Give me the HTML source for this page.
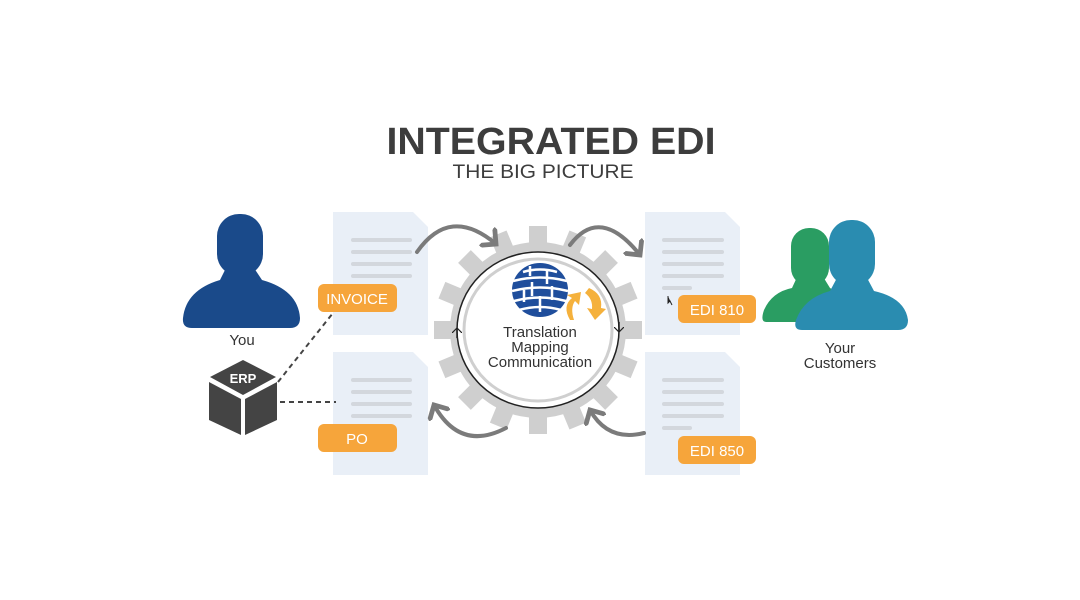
<!DOCTYPE html>
<html><head><meta charset="utf-8"><style>
html,body{margin:0;padding:0;background:#fff;width:1080px;height:600px;overflow:hidden}
svg{display:block}
text{font-family:"Liberation Sans",sans-serif}
</style></head><body>
<svg width="1080" height="600" viewBox="0 0 1080 600" xmlns="http://www.w3.org/2000/svg">
<defs>
<marker id="ah" markerWidth="6" markerHeight="6" refX="3" refY="3" orient="auto" markerUnits="strokeWidth">
<path d="M0,0 L3,3 L0,6" fill="none" stroke="#7b7b7b" stroke-width="1.2"/>
</marker>
<marker id="bh" markerWidth="10" markerHeight="10" refX="5" refY="5" orient="auto" markerUnits="userSpaceOnUse">
<path d="M0,0 L5,5 L0,10" fill="none" stroke="#222" stroke-width="1.2"/>
</marker>
</defs>
<rect width="1080" height="600" fill="#fff"/>
<text x="551" y="154" text-anchor="middle" font-size="38" font-weight="bold" fill="#3d3d3d" textLength="329" lengthAdjust="spacingAndGlyphs">INTEGRATED EDI</text>
<text x="543" y="178" text-anchor="middle" font-size="19" fill="#3d3d3d" textLength="181" lengthAdjust="spacingAndGlyphs">THE BIG PICTURE</text>

<g fill="#e9eff7">
<path d="M333,212 H413 L428,227 V335 H333 Z"/>
<path d="M333,352 H413 L428,367 V475 H333 Z"/>
<path d="M645,212 H725 L740,227 V335 H645 Z"/>
<path d="M645,352 H725 L740,367 V475 H645 Z"/>
</g>
<g stroke="#d3d7dd" stroke-width="4" stroke-linecap="round">
<line x1="353" y1="240" x2="410" y2="240"/><line x1="353" y1="252" x2="410" y2="252"/><line x1="353" y1="264" x2="410" y2="264"/><line x1="353" y1="276" x2="410" y2="276"/>
<line x1="353" y1="380" x2="410" y2="380"/><line x1="353" y1="392" x2="410" y2="392"/><line x1="353" y1="404" x2="410" y2="404"/><line x1="353" y1="416" x2="410" y2="416"/>
<line x1="664" y1="240" x2="722" y2="240"/><line x1="664" y1="252" x2="722" y2="252"/><line x1="664" y1="264" x2="722" y2="264"/><line x1="664" y1="276" x2="722" y2="276"/><line x1="664" y1="288" x2="690" y2="288"/>
<line x1="664" y1="380" x2="722" y2="380"/><line x1="664" y1="392" x2="722" y2="392"/><line x1="664" y1="404" x2="722" y2="404"/><line x1="664" y1="416" x2="722" y2="416"/><line x1="664" y1="428" x2="690" y2="428"/>
</g>

<g transform="translate(538,330)">
<g fill="#cfcfcf">
<circle r="88"/>
<g id="t"><rect x="-9" y="-104" width="18" height="24"/></g>
<use href="#t" transform="rotate(22.5)"/><use href="#t" transform="rotate(45)"/><use href="#t" transform="rotate(67.5)"/><use href="#t" transform="rotate(90)"/><use href="#t" transform="rotate(112.5)"/><use href="#t" transform="rotate(135)"/><use href="#t" transform="rotate(157.5)"/><use href="#t" transform="rotate(180)"/><use href="#t" transform="rotate(202.5)"/><use href="#t" transform="rotate(225)"/><use href="#t" transform="rotate(247.5)"/><use href="#t" transform="rotate(270)"/><use href="#t" transform="rotate(292.5)"/><use href="#t" transform="rotate(315)"/><use href="#t" transform="rotate(337.5)"/>
</g>
<ellipse rx="81" ry="78" fill="#fff" stroke="#222" stroke-width="1.5"/>
<ellipse rx="74" ry="71" fill="#fff" stroke="#cfcfcf" stroke-width="3"/>
<path d="M81,-8 L81,2" stroke="#222" stroke-width="1.5" marker-end="url(#bh)"/>
<path d="M-81,8 L-81,-2" stroke="#222" stroke-width="1.5" marker-end="url(#bh)"/>
</g>

<g>
<ellipse cx="540" cy="290" rx="28" ry="27" fill="#1f4e9c"/>
<g stroke="#fff" stroke-width="2.5" fill="none">
<path d="M513,281 Q540,274 567,281"/><path d="M512,291 Q540,284 568,291"/><path d="M514,301 Q540,294 566,301"/><path d="M519,310 Q540,304 561,310"/><path d="M523,272 Q540,267 557,272"/>
<path d="M530,266 V276 M547,270 V284 M532,282 V296 M552,286 V300 M540,296 V312 M524,290 V302"/>
</g>
<path d="M570,320 Q562,306 572,298 L567,295 L581,292 L579,305 L575,301 Q570,308 574,320 Z" fill="#f5b13c"/>
<path d="M589,288 Q603,294 601,308 L606,309 L595,320 L587,308 L592,309 Q593,299 585,293 Z" fill="#f5b13c"/>
</g>
<text x="540" y="337" text-anchor="middle" font-size="15" fill="#333">Translation</text>
<text x="540" y="352" text-anchor="middle" font-size="15" fill="#333">Mapping</text>
<text x="540" y="367" text-anchor="middle" font-size="15" fill="#333">Communication</text>

<g fill="none" stroke="#7b7b7b" stroke-width="4" stroke-linecap="round">
<path d="M417,252 Q450,205 496,244" marker-end="url(#ah)"/>
<path d="M570,245 Q600,205 640,255" marker-end="url(#ah)"/>
<path d="M506,428 Q460,452 434,405" marker-end="url(#ah)"/>
<path d="M644,433 Q608,442 590,410" marker-end="url(#ah)"/>
</g>

<g fill="#f6a53b">
<rect x="318" y="284" width="79" height="28" rx="6"/>
<rect x="318" y="424" width="79" height="28" rx="6"/>
<rect x="678" y="295" width="78" height="28" rx="6"/>
<rect x="678" y="436" width="78" height="28" rx="6"/>
</g>
<g fill="#fff" font-size="15" text-anchor="middle">
<text x="357" y="304">INVOICE</text>
<text x="357" y="444">PO</text>
<text x="717" y="315">EDI 810</text>
<text x="717" y="456">EDI 850</text>
</g>

<g fill="#1a4a8a">
<rect x="217" y="214" width="46" height="62" rx="22"/>
<path d="M226,268 L254,268 L262,280 Q298,290 300,318 Q300,328 290,328 L192,328 Q182,328 183,318 Q186,290 220,280 Z"/>
</g>
<text x="242" y="345" text-anchor="middle" font-size="15" fill="#333">You</text>

<g fill="#444">
<path d="M243,360 L276,377 L243,395 L210,377 Z"/>
<path d="M209,382 L241,399 L241,435 L209,420 Z"/>
<path d="M245,399 L277,382 L277,420 L245,435 Z"/>
</g>
<text x="243" y="383" text-anchor="middle" font-size="13" font-weight="bold" fill="#fff">ERP</text>
<g stroke="#444" stroke-width="2" stroke-dasharray="5,4" fill="none">
<line x1="278" y1="382" x2="333" y2="313"/>
<line x1="280" y1="402" x2="336" y2="402"/>
</g>

<g fill="#2a9d62">
<rect x="791" y="228" width="38" height="58" rx="18"/>
<path d="M798,275 L822,275 L830,288 Q845,295 850,322 L766,322 Q760,322 764,310 Q772,292 792,288 Z"/>
</g>
<g fill="#2a8cb0">
<rect x="829" y="220" width="46" height="66" rx="22"/>
<path d="M838,276 L866,276 L874,291 Q905,298 908,320 Q908,330 898,330 L802,330 Q793,330 796,320 Q804,298 830,291 Z"/>
</g>
<text x="840" y="353" text-anchor="middle" font-size="15" fill="#333">Your</text>
<text x="840" y="368" text-anchor="middle" font-size="15" fill="#333">Customers</text>
<path d="M668,296 L668,303 L670,301 L672,305" stroke="#222" stroke-width="1" fill="#222"/>
</svg>
</body></html>
